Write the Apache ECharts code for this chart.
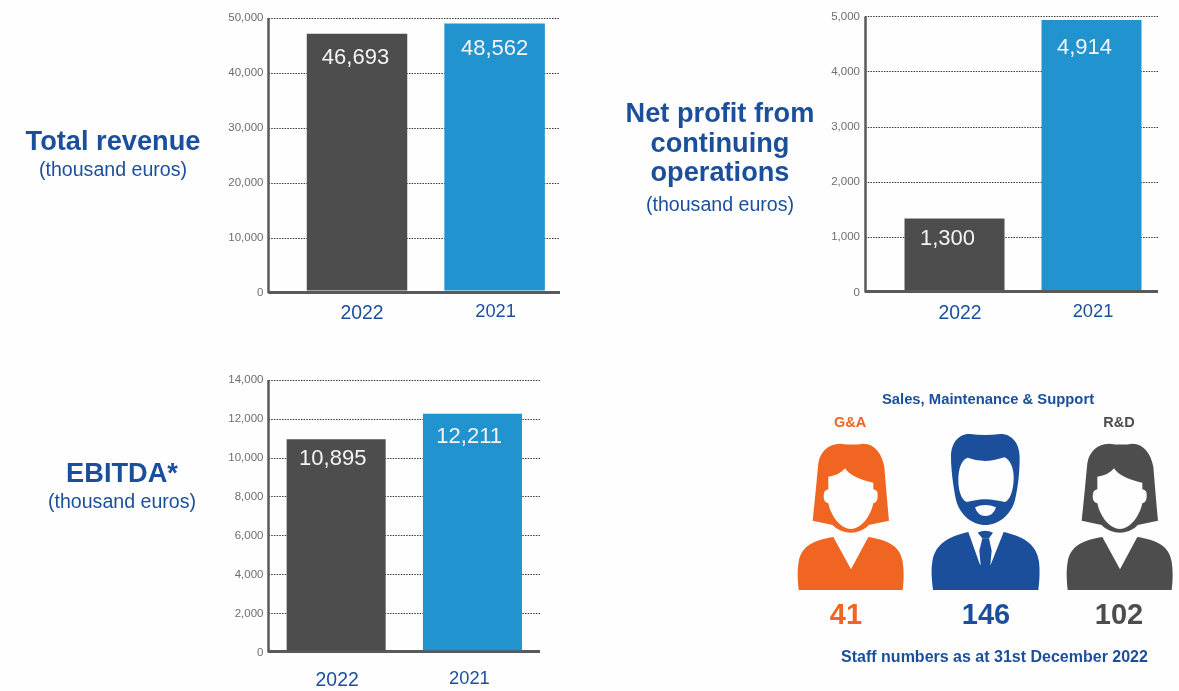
<!DOCTYPE html>
<html>
<head>
<meta charset="utf-8">
<style>html,body{margin:0;padding:0;background:#fefefe}#main{width:1179px;height:691px}</style>
<script src="https://cdn.jsdelivr.net/npm/echarts@6/dist/echarts.min.js"></script>
</head>
<body>
<div id="main"></div>
<script>
// Figures per panel
const years = ['2022', '2021'];
const totalRevenue = [46693, 48562];
const netProfit = [1300, 4914];
const ebitda = [10895, 12211];
const revenueTicks = [0, 50000, 10000];
const profitTicks = [0, 5000, 1000];
const ebitdaTicks = [0, 14000, 2000];

// Headcount by department
const staffDepartments = ['G&A', 'Sales, Maintenance & Support', 'R&D'];
const staffCounts = [41, 146, 102];

const FONT = '"Liberation Sans", Arial, sans-serif';
const DARK = '#4d4d4d', BLUE = '#2193cf', NAVY = '#1b4f9c', ORANGE = '#f06522', AXIS = '#58595b';

// Each panel has a back grid (axes, dotted rules) and a front grid (bars, year labels).
const panels = [
  { values: totalRevenue, ticks: revenueTicks,
    back: { left: 268.5, top: 18, width: 291.5, height: 275 },
    front: { left: 288.2, top: 15.5, width: 275.2, height: 275 },
    barWidth: 100.5, labelShift: [[-1.5, 13], [0, 14.5]], yearShift: [5, 1], yearMargin: 12, yearDrop: [2, 0] },
  { values: netProfit, ticks: profitTicks,
    back: { left: 865, top: 16.5, width: 293, height: 276 },
    front: { left: 886, top: 15.3, width: 274, height: 274.7 },
    barWidth: 100, labelShift: [[-7, 9.6], [-7, 16.7]], yearShift: [5.5, 1.5], yearMargin: 13, yearDrop: [1, 0] },
  { values: ebitda, ticks: ebitdaTicks,
    back: { left: 268.5, top: 380, width: 271.5, height: 272.4 },
    front: { left: 268, top: 379, width: 272.6, height: 271.3 },
    barWidth: 99, labelShift: [[-3.4, 8.3], [-3.3, 12]], yearShift: [1, -3], yearMargin: 20, yearDrop: [1, 0] }
];

const grids = [], xAxes = [], yAxes = [], series = [];

panels.forEach(function (p) {
  const backIndex = grids.length;
  grids.push(p.back, p.front);
  const [min, max, interval] = p.ticks;

  xAxes.push({
    gridIndex: backIndex, type: 'value', min: 0, max: 1, offset: -1,
    axisLine: { show: true, onZero: false, lineStyle: { color: AXIS, width: 3, cap: 'butt' } },
    axisTick: { show: false }, axisLabel: { show: false }, splitLine: { show: false }
  });
  yAxes.push({
    gridIndex: backIndex, type: 'value', min: min, max: max, interval: interval,
    axisLine: { show: true, onZero: false, lineStyle: { color: AXIS, width: 2.5, cap: 'butt' } },
    axisTick: { show: false },
    axisLabel: {
      margin: 5, color: '#6d6e71', fontFamily: FONT, fontSize: 11.5, padding: [2, 0, 0, 0],
      formatter: function (v) { return v.toLocaleString('en-US'); }
    },
    splitLine: { show: true, lineStyle: { color: '#3a3a3a', width: 1.2, type: [1.5, 1.2] } }
  });

  const rich = {};
  years.forEach(function (y, i) {
    const s = p.yearShift[i];
    rich['y' + y] = {
      fontFamily: FONT, color: NAVY, fontSize: i === 0 ? 19.4 : 18.3,
      padding: [p.yearDrop[i], s < 0 ? -2 * s : 0, 0, s > 0 ? 2 * s : 0]
    };
  });
  xAxes.push({
    gridIndex: backIndex + 1, type: 'category', data: years,
    axisLine: { show: false }, axisTick: { show: false },
    axisLabel: {
      margin: p.yearMargin,
      formatter: function (v) { return '{y' + v + '|' + v + '}'; },
      rich: rich
    }
  });
  yAxes.push({ gridIndex: backIndex + 1, type: 'value', min: min, max: max, show: false });

  series.push({
    type: 'bar', xAxisIndex: backIndex + 1, yAxisIndex: backIndex + 1,
    barWidth: p.barWidth, z: 5,
    data: p.values.map(function (v, i) {
      return {
        value: v,
        itemStyle: { color: i === 0 ? DARK : BLUE },
        label: {
          show: true, position: 'insideTop', distance: 0, offset: p.labelShift[i],
          color: '#f4f4f4', fontFamily: FONT, fontSize: 22,
          formatter: function (o) { return o.value.toLocaleString('en-US'); }
        }
      };
    })
  });
});

function text(str, x, y, size, color, bold) {
  return {
    type: 'text', x: x, y: y + 2, z: 20, silent: true,
    style: {
      text: str, fill: color, font: (bold ? 'bold ' : '') + size + 'px ' + FONT,
      textAlign: 'center', textVerticalAlign: 'middle'
    }
  };
}

// Person pictograms, drawn at 3 units per pixel from each figure's own origin
const iconPaths = {
  womanHair: 'M68,272 C74,220 80,150 85,100 C90,65 115,42 150,41 Q190,46 220,41 C255,42 275,70 283,110 C288,170 292,220 297,272 L236,285 C225,300 200,308 183,308 C165,308 140,300 128,285 Z',
  womanFace: 'M115,140 Q150,135 165,115 Q185,145 250,158 L250,178 Q265,180 263,198 Q263,218 250,220 C240,265 210,297 183,297 C155,297 125,265 115,220 Q101,218 101,198 Q101,180 115,178 Z',
  womanBody: 'M26,480 C22,440 22,420 26,395 C35,345 75,330 130,321 L183,418 L235,321 C290,330 330,345 338,395 C342,420 342,450 338,480 Z',
  manHair: 'M78,80 C78,30 110,10 135,12 Q180,18 225,12 C255,10 285,35 284,85 C284,120 280,170 270,210 C258,255 220,285 181,285 C142,285 105,255 93,210 C85,170 78,120 78,80 Z',
  manFace: 'M100,150 C100,115 110,88 128,83 Q155,93 180,93 Q205,93 238,82 C255,88 268,115 266,150 C264,185 255,210 240,216 C220,212 195,207 180,208 C165,207 145,212 125,216 C110,210 100,185 100,150 Z',
  manMouth: 'M150,232 Q180,218 213,232 Q205,258 181,258 Q158,258 150,232 Z',
  manBody: 'M24,480 C20,440 18,420 22,395 C30,340 75,318 130,306 L165,404 L197,404 L236,306 C290,318 335,340 342,395 C345,420 344,450 340,480 Z',
  manKnot: 'M158,308 Q180,296 204,308 L192,325 L172,325 Z',
  manTie: 'M172,325 L192,325 L200,362 L196,406 L167,406 L163,362 Z'
};
Object.keys(iconPaths).forEach(function (name) {
  echarts.graphic.registerShape(name, echarts.graphic.extendPath(iconPaths[name], {}));
});

function icon(name, fill, x) {
  return {
    type: name, x: x, y: 430, scaleX: 1 / 3, scaleY: 1 / 3, z: 20, silent: true,
    style: { fill: fill }
  };
}
const FACE = '#fefefe';
const colors = [ORANGE, NAVY, DARK];
const HEADING = 27.2, SUBHEADING = 19.6;

const graphics = [
  text('Total revenue', 113, 141, HEADING, NAVY, true),
  text('(thousand euros)', 113, 169, SUBHEADING, NAVY),
  text('Net profit from', 720, 113, HEADING, NAVY, true),
  text('continuing', 720, 143, HEADING, NAVY, true),
  text('operations', 720, 172, HEADING, NAVY, true),
  text('(thousand euros)', 720, 204, SUBHEADING, NAVY),
  text('EBITDA*', 122, 473, HEADING, NAVY, true),
  text('(thousand euros)', 122, 501, SUBHEADING, NAVY),
  text(staffDepartments[0], 850, 421, 14.5, ORANGE, true),
  text(staffDepartments[1], 988, 398, 14.8, NAVY, true),
  text(staffDepartments[2], 1119, 421, 14.5, DARK, true),
  text(String(staffCounts[0]), 846, 614, 29, colors[0], true),
  text(String(staffCounts[1]), 986, 614, 29, colors[1], true),
  text(String(staffCounts[2]), 1119, 614, 29, colors[2], true),
  text('Staff numbers as at 31st December 2022', 994.5, 656, 16, NAVY, true),
  icon('womanHair', colors[0], 790), icon('womanFace', FACE, 790), icon('womanBody', colors[0], 790),
  icon('manHair', colors[1], 925), icon('manFace', FACE, 925), icon('manMouth', FACE, 925),
  icon('manBody', colors[1], 925), icon('manKnot', colors[1], 925), icon('manTie', colors[1], 925),
  icon('womanHair', colors[2], 1059), icon('womanFace', FACE, 1059), icon('womanBody', colors[2], 1059)
];

const chart = echarts.init(document.getElementById('main'), null, { renderer: 'canvas' });
chart.setOption({
  animation: false,
  backgroundColor: '#fefefe',
  tooltip: { show: false },
  grid: grids,
  xAxis: xAxes,
  yAxis: yAxes,
  series: series,
  graphic: graphics
});
</script>
</body>
</html>
